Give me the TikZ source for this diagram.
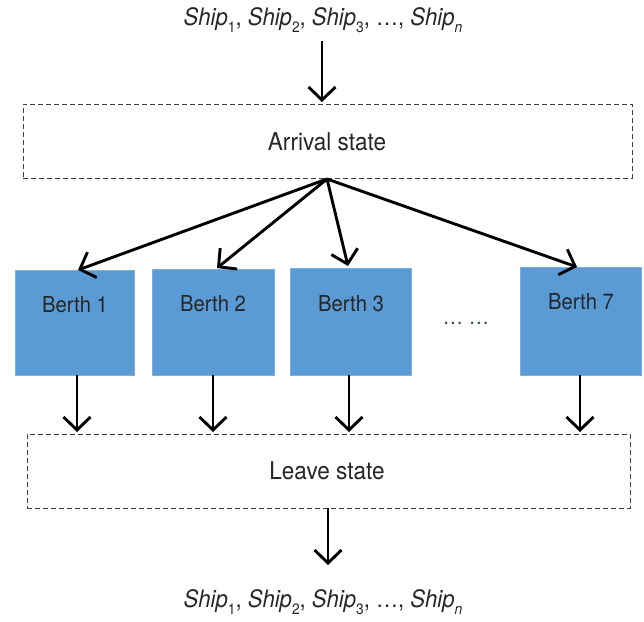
\documentclass[tikz,border=0pt]{standalone}
\usepackage{fontspec}
\setmainfont{TeX Gyre Heros}[FakeStretch=0.92]
\usetikzlibrary{arrows.meta}
\definecolor{berthblue}{HTML}{5B9BD5}
\definecolor{txt}{HTML}{262626}
\tikzset{
  every node/.style={font=\fontsize{22}{26}\selectfont, text=txt},
  statetext/.style={font=\fontsize{24.5}{28}\selectfont},
  shiptext/.style={font=\fontsize{24}{28}\selectfont},
  statebox/.style={draw=black!75, dash pattern=on 5pt off 3pt, line width=1pt, inner sep=0pt},
  berth/.style={fill=berthblue, draw=berthblue!80!white, inner sep=0pt},
  flow/.style={draw=black, line width=2.9pt, -{Straight Barb[length=13pt,width=27pt,line width=2.9pt]}},
}
\newcommand{\shipsub}[1]{\raisebox{-0.32em}{\fontsize{15}{17}\selectfont #1}}
\newcommand{\shipseq}{\textit{Ship}\shipsub{1}, \textit{Ship}\shipsub{2}, \textit{Ship}\shipsub{3}, \dots, \textit{Ship}\shipsub{\textit{n}}}
\begin{document}
\begin{tikzpicture}[x=1pt,y=-1pt]
  \useasboundingbox (0,0) rectangle (644,621);
  % incoming and outgoing ship lists
  \node[shiptext] (shipsin) at (323,20) {\shipseq};
  \node[shiptext] (shipsout) at (323,602) {\shipseq};
  % arrival and leave states
  \node[statebox, minimum width=609pt, minimum height=74pt] (arrival) at (327.5,141) {};
  \node[statetext] at (327,142) {Arrival state};
  \node[statebox, minimum width=603pt, minimum height=74pt] (leave) at (328.5,471) {};
  \node[statetext] at (327,471) {Leave state};
  % berths
  \node[berth, minimum width=119pt, minimum height=105pt] (b1) at (74.5,322.5) {};
  \node[berth, minimum width=122pt, minimum height=106pt] (b2) at (213,322) {};
  \node[berth, minimum width=121pt, minimum height=107pt] (b3) at (350.5,321.5) {};
  \node[berth, minimum width=121pt, minimum height=108pt] (b7) at (580.5,321) {};
  \node at (75,305) {Berth 1};
  \node at (213,304) {Berth 2};
  \node at (351,304) {Berth 3};
  \node at (581,302) {Berth 7};
  \node[text=txt!70!berthblue] (dots) at (466,323) {\dots\ \dots};
  % connectors
  \coordinate (hub) at (327,179);
  \draw[flow] (322,41) -- (322,102);
  \draw[flow] (hub) -- (78,270);
  \draw[flow] (hub) -- (217,268);
  \draw[flow] (hub) -- (348,266);
  \draw[flow] (hub) -- (577,267);
  \draw[flow] (77,375) -- (77,432);
  \draw[flow] (213,375) -- (213,432);
  \draw[flow] (349,375) -- (349,432);
  \draw[flow] (580,375) -- (580,432);
  \draw[flow] (328,508) -- (328,565);
\end{tikzpicture}
\end{document}
